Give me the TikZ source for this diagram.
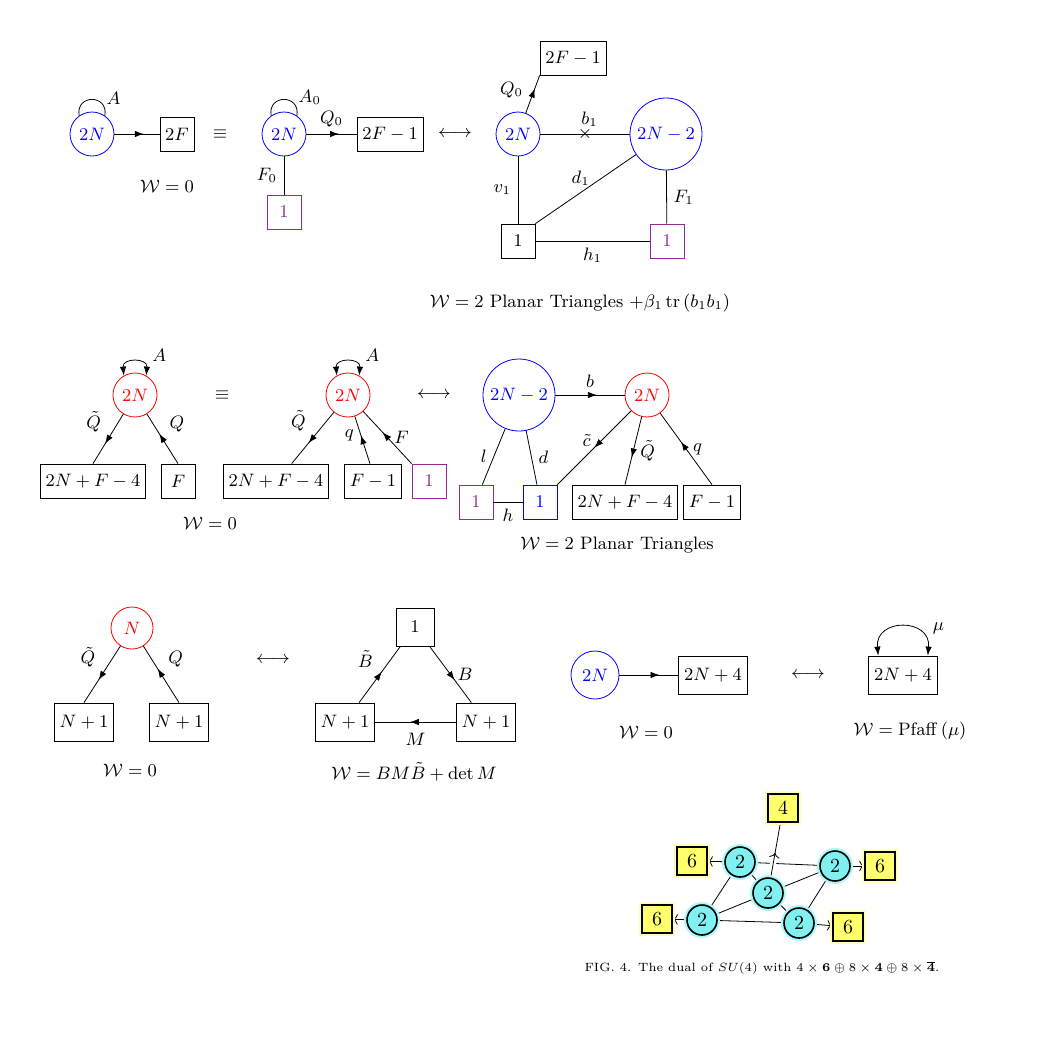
\documentclass[tikz,border=0pt]{standalone}
\usepackage{amsmath}
\usepackage{tikz}
\usetikzlibrary{arrows.meta}
\usetikzlibrary{decorations.markings}
\definecolor{purp}{RGB}{150,40,150}
\definecolor{skcyan}{RGB}{128,240,240}
\definecolor{skglow}{RGB}{175,248,250}
\definecolor{skyellow}{RGB}{255,255,110}
\definecolor{skyglow}{RGB}{255,255,185}
\pgfdeclarelayer{background}
\pgfsetlayers{background,main}
\tikzset{
  gauge/.style={shape=circle,draw,minimum size=22pt,inner sep=1pt},
  flavour/.style={shape=rectangle,draw,minimum size=17pt,inner xsep=2.6pt},
  midarrow/.style={decoration={markings,mark=at position #1 with {\arrow{Latex[length=4.5pt,width=3.2pt]}}},postaction={decorate}},
  midarrow/.default=0.6,
  twotip/.style={>={Latex[length=4.5pt,width=3.2pt]},<->},
  midto/.style={decoration={markings,mark=at position 0.45 with {\arrow{>}}},postaction={decorate}},
  sknode/.style={shape=circle,draw,line width=0.8pt,fill=skcyan,minimum size=15pt,inner sep=0pt,font=\normalsize,preaction={draw=skglow,line width=3pt}},
  skbox/.style={shape=rectangle,draw,line width=0.8pt,fill=skyellow,minimum width=15pt,minimum height=14pt,inner sep=0pt,font=\normalsize,preaction={draw=skyglow,line width=3pt}},
}
\begin{document}
\begin{tikzpicture}[x=0.5pt,y=0.5pt,font=\small]
\useasboundingbox (0,0) rectangle (1064,-1056);
\node[gauge,blue] (a1) at (92,-134) {$2N$};
\node[flavour] (a2) at (177,-134) {$2F$};
\node (a3) at (220,-134) {$\equiv$};
\node (a4) at (167,-186) {$\mathcal{W}=0$};
\node[gauge,blue] (a5) at (284,-134) {$2N$};
\node[flavour] (a6) at (390,-134) {$2F-1$};
\node[flavour,purp] (a7) at (284,-212) {$1$};
\node (a8) at (455,-134) {$\longleftrightarrow$};
\node[gauge,blue] (b1) at (518,-134) {$2N$};
\node[gauge,blue,minimum size=36pt] (b2) at (666,-134) {$2N-2$};
\node[flavour] (b3) at (573,-58) {$2F-1$};
\node[flavour] (b4) at (518,-241) {$1$};
\node[flavour,purp] (b5) at (667,-241) {$1$};
\node (b6) at (580,-303) {$\mathcal{W}=2$ Planar Triangles $+\beta_1\,\mathrm{tr}\,(b_1b_1)$};
\draw (a1.125) .. controls +(100:22) and +(80:22) .. (a1.55) node[pos=0.85,above right,inner sep=1pt] {$A$};
\draw[midarrow=0.65] (a1) -- (a2);
\draw (a5.125) .. controls +(100:22) and +(80:22) .. (a5.55) node[pos=0.85,above right,inner sep=1pt] {$A_0$};
\draw[midarrow=0.65] (a5) -- node[above] {$Q_0$} (a6);
\draw (a5) -- node[left] {$F_0$} (a7);
\draw[midarrow=0.65] (b1) -- node[pos=0.6,left=2pt] {$Q_0$} (b3.south west);
\draw (b1) -- node (x1) {$\times$} node[pos=0.55,above] {$b_1$} (b2);
\draw (b1) -- node[left] {$v_1$} (b4);
\draw (b4.north east) -- node[pos=0.45,above] {$d_1$} (b2);
\draw (b2) -- node[right] {$F_1$} (b5);
\draw (b4) -- node[below] {$h_1$} (b5);
\node[gauge,red] (c1) at (135,-395) {$2N$};
\node[flavour] (c2) at (93,-481) {$2N+F-4$};
\node[flavour] (c3) at (178,-481) {$F$};
\node (c4) at (222,-395) {$\equiv$};
\node (c5) at (210,-523) {$\mathcal{W}=0$};
\node[gauge,red] (d1) at (348,-395) {$2N$};
\node[flavour] (d2) at (276,-481) {$2N+F-4$};
\node[flavour] (d3) at (373,-481) {$F-1$};
\node[flavour,purp] (d4) at (429,-481) {$1$};
\node (d5) at (434,-395) {$\longleftrightarrow$};
\node[gauge,blue,minimum size=36pt] (e1) at (519,-395) {$2N-2$};
\node[gauge,red] (e2) at (647,-395) {$2N$};
\node[flavour,purp] (e3) at (476,-502) {$1$};
\node[flavour,blue] (e4) at (540,-502) {$1$};
\node[flavour] (e5) at (625,-502) {$2N+F-4$};
\node[flavour] (e6) at (712,-502) {$F-1$};
\node (e7) at (617,-545) {$\mathcal{W}=2$ Planar Triangles};
\draw[twotip] (c1.120) .. controls +(95:18) and +(85:18) .. (c1.60) node[pos=0.85,above right] {$A$};
\draw[midarrow] (c1) -- node[above left] {$\tilde{Q}$} (c2.north);
\draw[midarrow] (c3.north) -- node[above right] {$Q$} (c1);
\draw[twotip] (d1.120) .. controls +(95:18) and +(85:18) .. (d1.60) node[pos=0.85,above right] {$A$};
\draw[midarrow] (d1) -- node[above left] {$\tilde{Q}$} (d2.48);
\draw[midarrow] (d3.100) -- node[pos=0.6,left] {$q$} (d1);
\draw[midarrow] (d4.north west) -- node[right] {$F$} (d1);
\draw[midarrow] (e1) -- node[above] {$b$} (e2);
\draw (e1) -- node[left] {$l$} (e3.70);
\draw (e1) -- node[right] {$d$} (e4.100);
\draw (e3) -- node[below] {$h$} (e4);
\draw[midarrow=0.5] (e2) -- node[pos=0.4,left=2pt] {$\tilde{c}$} (e4.north east);
\draw[midarrow] (e2) -- node[right] {$\tilde{Q}$} (e5.north);
\draw[midarrow] (e6.north) -- node[right] {$q$} (e2);
\node[gauge,red,minimum size=21pt] (f1) at (132,-628) {$N$};
\node[flavour,minimum height=19pt] (f2) at (84,-722) {$N+1$};
\node[flavour,minimum height=19pt] (f3) at (179,-722) {$N+1$};
\node (f4) at (130,-770) {$\mathcal{W}=0$};
\node (f5) at (273,-660) {$\longleftrightarrow$};
\node[flavour,minimum size=19pt] (g1) at (415,-627) {$1$};
\node[flavour,minimum height=19pt] (g2) at (345,-722) {$N+1$};
\node[flavour,minimum height=19pt] (g3) at (486,-722) {$N+1$};
\node (g4) at (414,-772) {$\mathcal{W}=BM\tilde{B}+\det M$};
\draw[midarrow] (f1) -- node[above left] {$\tilde{Q}$} (f2.north);
\draw[midarrow] (f3.north) -- node[above right] {$Q$} (f1);
\draw[midarrow=0.55] (g2.54) -- node[above left] {$\tilde{B}$} (g1.233);
\draw[midarrow] (g1.-53) -- node[right] {$B$} (g3.127);
\draw[midarrow=0.57] (g3) -- node[below=2pt] {$M$} (g2);
\node[gauge,blue,minimum size=24pt] (h1) at (595,-675) {$2N$};
\node[flavour,minimum height=19pt] (h2) at (713,-675) {$2N+4$};
\node (h3) at (646,-732) {$\mathcal{W}=0$};
\node (h4) at (808,-675) {$\longleftrightarrow$};
\node[flavour,minimum height=19pt] (h5) at (903,-675) {$2N+4$};
\node (h6) at (910,-731) {$\mathcal{W}=\mathrm{Pfaff}\,(\mu)$};
\draw[midarrow=0.68] (h1) -- (h2);
\draw[twotip] (h5.142) .. controls +(95:38) and +(85:38) .. (h5.38) node[pos=0.85,above right] {$\mu$};
\node[sknode] (k1) at (740,-862) {$2$};
\node[sknode] (k2) at (835,-866) {$2$};
\node[sknode] (k3) at (768,-893) {$2$};
\node[sknode] (k4) at (702,-920) {$2$};
\node[sknode] (k5) at (799,-923) {$2$};
\node[skbox] (k6) at (692,-861) {$6$};
\node[skbox] (k7) at (880,-866) {$6$};
\node[skbox] (k8) at (657,-919) {$6$};
\node[skbox] (k9) at (848,-927) {$6$};
\node[skbox] (k10) at (783,-808) {$4$};
\node (k11) at (762,-968) {\fontsize{6}{7}\selectfont FIG.~4. The dual of $SU(4)$ with $4\times\mathbf{6}\oplus8\times\mathbf{4}\oplus8\times\overline{\mathbf{4}}$.};
\begin{pgfonlayer}{background}
\draw (k1) -- (k2);
\draw[preaction={draw,white,line width=3pt},midto] (k3) -- (k10);
\draw[->] (k1) -- (k6);
\draw[->] (k2) -- (k7);
\draw[->] (k4) -- (k8);
\draw[->] (k5) -- (k9);
\draw (k1) -- (k3);
\draw (k1) -- (k4);
\draw (k2) -- (k3);
\draw (k2) -- (k5);
\draw (k3) -- (k4);
\draw (k3) -- (k5);
\draw (k4) -- (k5);
\end{pgfonlayer}
\end{tikzpicture}
\end{document}
